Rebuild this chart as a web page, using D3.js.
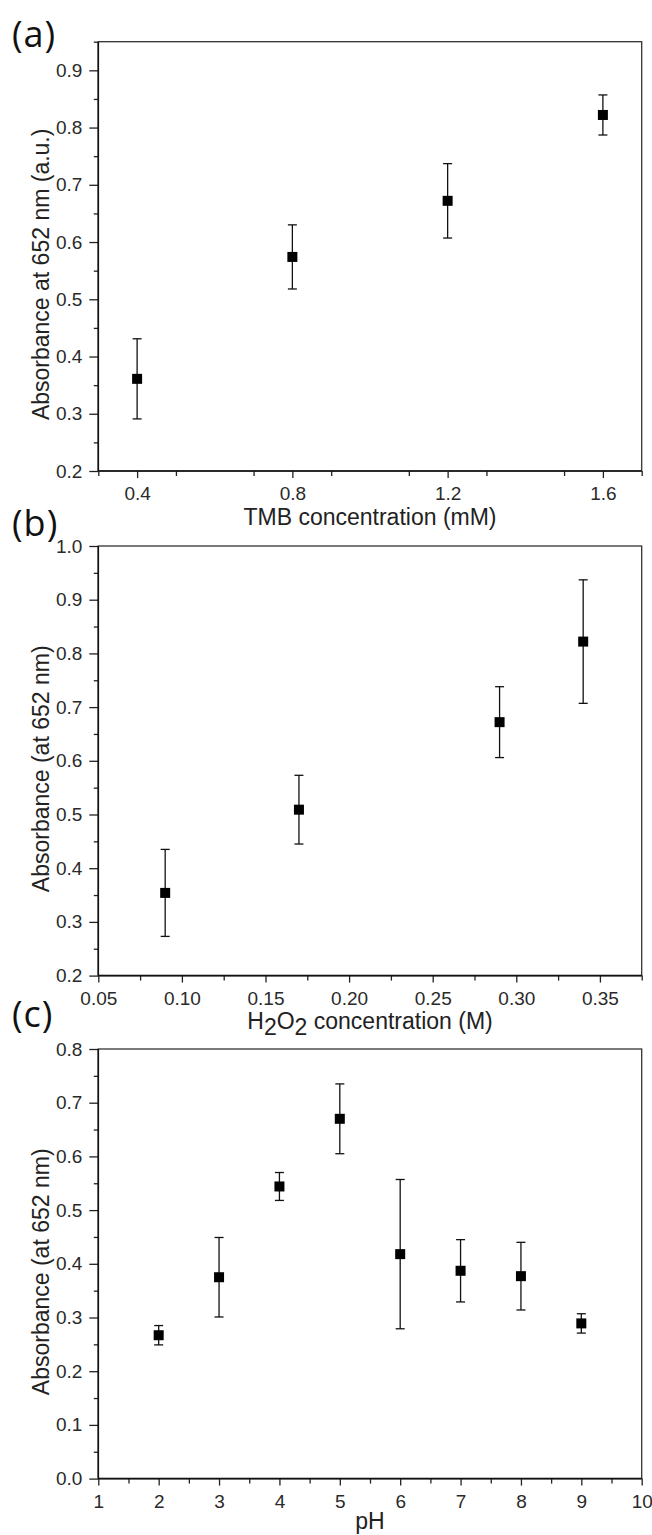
<!DOCTYPE html>
<html><head><meta charset="utf-8">
<script src="https://cdn.jsdelivr.net/npm/d3@7"></script>
<style>body{margin:0;background:#fff} svg{display:block}</style>
</head><body>
<svg id="chart" width="652" height="1535"></svg>
<script>
// ---- Data ----
// (a) TMB concentration series
const tmbConc = [0.4, 0.8, 1.2, 1.6];
const tmbAbs  = [0.361, 0.574, 0.672, 0.822];
const tmbErr  = [0.070, 0.056, 0.065, 0.035];
const tmbXTicks = [0.4, 0.8, 1.2, 1.6];
const tmbYTicks = [0.2, 0.3, 0.4, 0.5, 0.6, 0.7, 0.8, 0.9];

// (b) H2O2 concentration series
const h2o2Conc = [0.09, 0.17, 0.29, 0.34];
const h2o2Abs  = [0.354, 0.509, 0.672, 0.822];
const h2o2Err  = [0.081, 0.064, 0.066, 0.115];
const h2o2XTicks = [0.05, 0.10, 0.15, 0.20, 0.25, 0.30, 0.35];
const h2o2YTicks = [0.2, 0.3, 0.4, 0.5, 0.6, 0.7, 0.8, 0.9, 1.0];

// (c) pH series
const phVals = [2, 3, 4, 5, 6, 7, 8, 9];
const phAbs  = [0.267, 0.375, 0.544, 0.670, 0.418, 0.387, 0.377, 0.289];
const phErr  = [0.018, 0.074, 0.026, 0.065, 0.139, 0.058, 0.063, 0.018];
const phXTicks = [1, 2, 3, 4, 5, 6, 7, 8, 9, 10];
const phYTicks = [0.0, 0.1, 0.2, 0.3, 0.4, 0.5, 0.6, 0.7, 0.8];

// ---- Layout ----
const svg = d3.select("#chart");
const left = 98.3, right = 641.7;
const tickFont = "'Liberation Sans', Arial, sans-serif";

const panels = [
  { label: "(a)", lx: 12, ly: 47, top: 41.7, bottom: 471, yTitleShift: 18, xTitleOff: 54,
    xDom: [0.3, 1.7], xTicks: tmbXTicks, xMinorStep: 0.2, xFmt: d3.format(".1f"),
    yDom: [0.2, 0.95], yTicks: tmbYTicks, yFmt: d3.format(".1f"),
    xs: tmbConc, ys: tmbAbs, es: tmbErr,
    yTitle: "Absorbance at 652 nm (a.u.)", xTitle: [{t: "TMB concentration (mM)"}] },
  { label: "(b)", lx: 12, ly: 536, top: 546, bottom: 975.6, yTitleShift: 8, xTitleOff: 53,
    xDom: [0.05, 0.375], xTicks: h2o2XTicks, xMinorStep: 0.025, xFmt: d3.format(".2f"),
    yDom: [0.2, 1.0], yTicks: h2o2YTicks, yFmt: d3.format(".1f"),
    xs: h2o2Conc, ys: h2o2Abs, es: h2o2Err,
    yTitle: "Absorbance (at 652 nm)",
    xTitle: [{t: "H"}, {t: "2", sub: true}, {t: "O"}, {t: "2", sub: true}, {t: " concentration (M)"}] },
  { label: "(c)", lx: 12, ly: 1027, top: 1049, bottom: 1478.6, yTitleShift: 8, xTitleOff: 50,
    xDom: [1, 10], xTicks: phXTicks, xMinorStep: 0.5, xFmt: d3.format("d"),
    yDom: [0.0, 0.8], yTicks: phYTicks, yFmt: d3.format(".1f"),
    xs: phVals, ys: phAbs, es: phErr,
    yTitle: "Absorbance (at 652 nm)", xTitle: [{t: "pH"}] }
];

panels.forEach(p => {
  const x = d3.scaleLinear().domain(p.xDom).range([left, right]);
  const y = d3.scaleLinear().domain(p.yDom).range([p.bottom, p.top]);
  const g = svg.append("g");

  // minor ticks
  const yMinor = d3.range(p.yDom[0], p.yDom[1] + 1e-9, 0.05)
    .filter(v => !p.yTicks.some(t => Math.abs(t - v) < 1e-6));
  const xMinor = d3.range(p.xDom[0], p.xDom[1] + 1e-9, p.xMinorStep)
    .filter(v => !p.xTicks.some(t => Math.abs(t - v) < 1e-6));

  const yMinorAxis = g.append("g").attr("transform", `translate(${left},0)`)
    .call(d3.axisLeft(y).tickValues(yMinor).tickSize(4.5).tickFormat(""));
  const xMinorAxis = g.append("g").attr("transform", `translate(0,${p.bottom})`)
    .call(d3.axisBottom(x).tickValues(xMinor).tickSize(5).tickFormat(""));

  const yAxis = g.append("g").attr("transform", `translate(${left},0)`)
    .call(d3.axisLeft(y).tickValues(p.yTicks).tickSize(9).tickPadding(7).tickFormat(p.yFmt));
  const xAxis = g.append("g").attr("transform", `translate(0,${p.bottom})`)
    .call(d3.axisBottom(x).tickValues(p.xTicks).tickSize(7).tickPadding(8.5).tickFormat(p.xFmt));

  [yMinorAxis, xMinorAxis, yAxis, xAxis].forEach(a => {
    a.select(".domain").remove();
    a.selectAll("line").attr("stroke", "#222").attr("stroke-width", 1.3);
    a.selectAll("text").attr("font-family", tickFont).attr("font-size", 19).attr("fill", "#2a2a2a");
  });

  // frame
  g.append("rect").attr("x", left).attr("y", p.top)
    .attr("width", right - left).attr("height", p.bottom - p.top)
    .attr("fill", "none").attr("stroke", "#333").attr("stroke-width", 1.3);
  g.append("line").attr("x1", left).attr("x2", left).attr("y1", p.top).attr("y2", p.bottom)
    .attr("stroke", "#111").attr("stroke-width", 1.6);
  g.append("line").attr("x1", left).attr("x2", right).attr("y1", p.bottom).attr("y2", p.bottom)
    .attr("stroke", "#111").attr("stroke-width", 1.6);

  // error bars + markers
  const data = p.xs.map((v, i) => ({x: v, y: p.ys[i], e: p.es[i]}));
  const eb = g.append("g").attr("stroke", "#111").attr("stroke-width", 1.3);
  data.forEach(d => {
    const cx = x(d.x);
    eb.append("line").attr("x1", cx).attr("x2", cx).attr("y1", y(d.y - d.e)).attr("y2", y(d.y + d.e));
    eb.append("line").attr("x1", cx - 4.5).attr("x2", cx + 4.5).attr("y1", y(d.y + d.e)).attr("y2", y(d.y + d.e));
    eb.append("line").attr("x1", cx - 4.5).attr("x2", cx + 4.5).attr("y1", y(d.y - d.e)).attr("y2", y(d.y - d.e));
  });
  g.append("g").selectAll("rect").data(data).join("rect")
    .attr("x", d => x(d.x) - 5).attr("y", d => y(d.y) - 5)
    .attr("width", 10).attr("height", 10).attr("fill", "#000");

  // axis titles
  g.append("text")
    .attr("transform", `translate(49,${(p.top + p.bottom) / 2 + p.yTitleShift}) rotate(-90)`)
    .attr("text-anchor", "middle").attr("font-family", tickFont).attr("font-size", 23)
    .attr("fill", "#222").text(p.yTitle);
  const xt = g.append("text").attr("x", (left + right) / 2).attr("y", p.bottom + p.xTitleOff)
    .attr("text-anchor", "middle").attr("font-family", tickFont).attr("font-size", 23).attr("fill", "#222");
  let shifted = false;
  p.xTitle.forEach(part => {
    const ts = xt.append("tspan").text(part.t);
    if (part.sub && !shifted) { ts.attr("dy", 6); shifted = true; }
    else if (!part.sub && shifted) { ts.attr("dy", -6); shifted = false; }
  });

  // panel label
  svg.append("text").attr("x", p.lx).attr("y", p.ly)
    .attr("font-family", "'Open Sans', 'Noto Sans', sans-serif").attr("font-size", 36)
    .attr("letter-spacing", 1).attr("fill", "#111").text(p.label);
});
</script>
</body></html>
